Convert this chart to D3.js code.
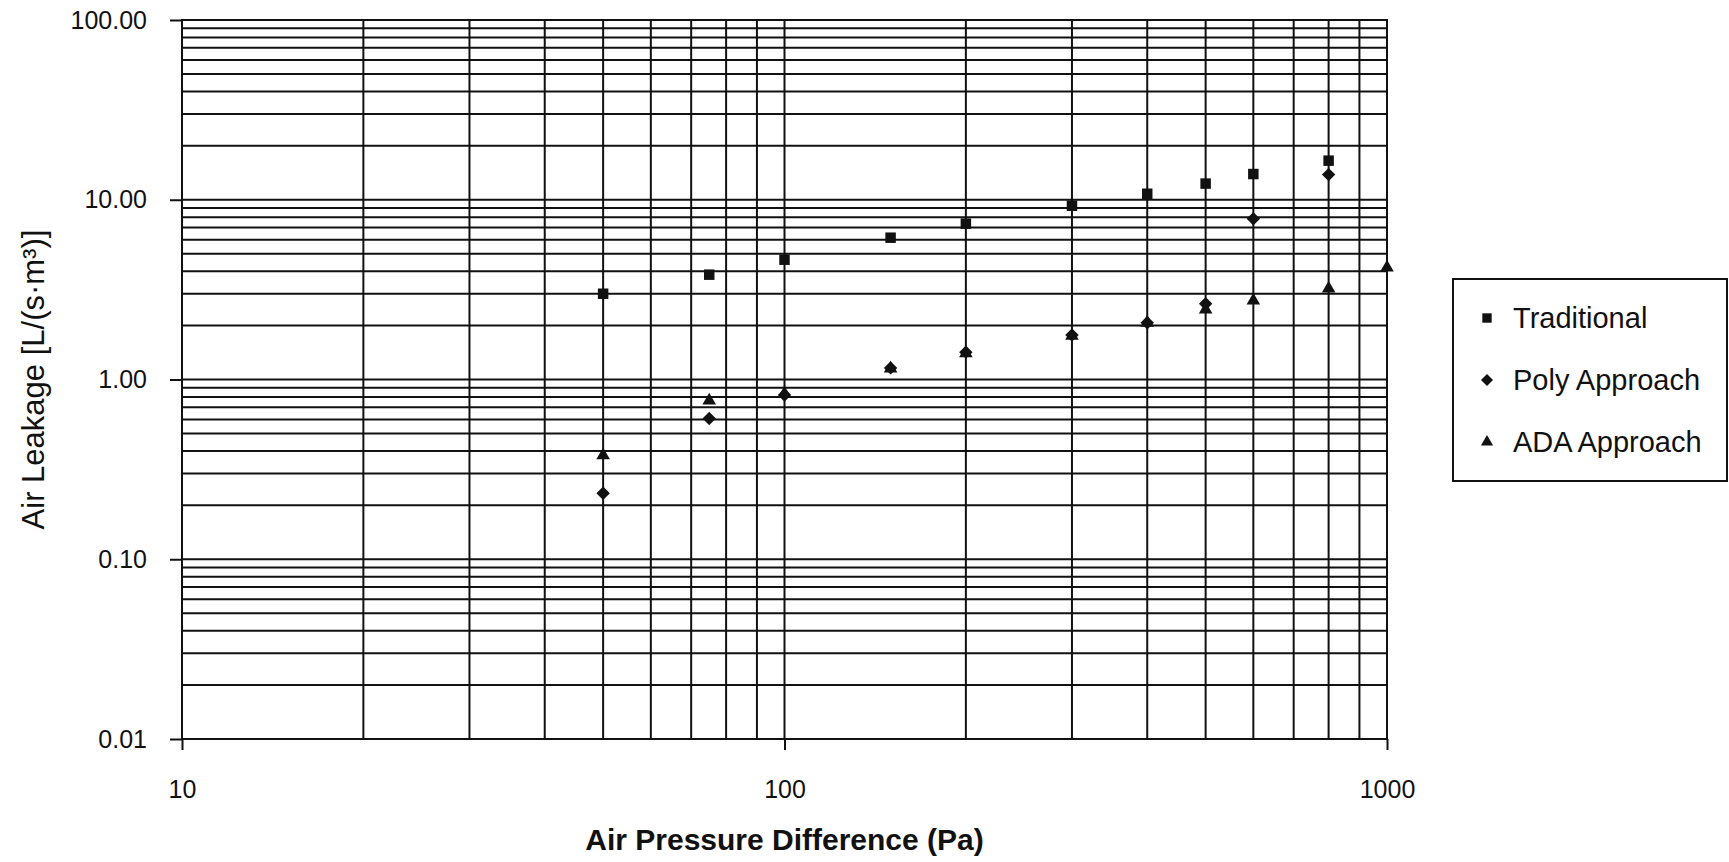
<!DOCTYPE html>
<html>
<head>
<meta charset="utf-8">
<script src="https://cdn.jsdelivr.net/npm/d3@7"></script>
<style>
    body { margin: 0; background: #fff; }
    text { font-family: "Liberation Sans", Arial, sans-serif; fill: #111; }
</style>
</head>
<body>
<script>
// values
const pressure = [50, 75, 100, 150, 200, 300, 400, 500, 600, 800, 1000];
const traditional = [3.0, 3.83, 4.64, 6.15, 7.36, 9.26, 10.8, 12.3, 13.9, 16.5, null];
const polyApproach = [0.233, 0.607, 0.82, 1.16, 1.42, 1.77, 2.07, 2.64, 7.84, 13.8, null];
const adaApproach = [0.378, 0.764, 0.836, 1.15, 1.40, 1.75, 2.07, 2.45, 2.75, 3.2, 4.19];

const seriesNames = ["Traditional", "Poly Approach", "ADA Approach"];
const yMajor = [0.01, 0.1, 1, 10, 100];
const xMajor = [10, 100, 1000];

const width = 1729;
const height = 862;
const plot = {left: 182, right: 1387, top: 20, bottom: 739};

const svg = d3.select("body")
    .append("svg")
    .attr("width", width)
    .attr("height", height);

svg.append("rect")
    .attr("width", width)
    .attr("height", height)
    .attr("fill", "#fff");

const xScale = d3.scaleLog()
    .domain([10, 1000])
    .range([plot.left, plot.right]);

const yScale = d3.scaleLog()
    .domain([0.01, 100])
    .range([plot.bottom, plot.top]);

// grid, every 1..9 step of each decade
const grid = svg.append("g")
    .attr("stroke", "#111")
    .attr("stroke-width", 2);

grid.selectAll(".hline")
    .data(yScale.ticks())
    .enter().append("line")
    .attr("x1", plot.left)
    .attr("x2", plot.right)
    .attr("y1", function (d) { return yScale(d); })
    .attr("y2", function (d) { return yScale(d); });

grid.selectAll(".vline")
    .data(xScale.ticks())
    .enter().append("line")
    .attr("y1", plot.top)
    .attr("y2", plot.bottom)
    .attr("x1", function (d) { return xScale(d); })
    .attr("x2", function (d) { return xScale(d); });

// axes with tick marks on the decades only
const yAxis = svg.append("g")
    .attr("transform", "translate(" + plot.left + ",0)")
    .call(d3.axisLeft(yScale)
        .tickValues(yMajor)
        .tickSize(12)
        .tickPadding(23)
        .tickFormat(d3.format(".2f")));

const xAxis = svg.append("g")
    .attr("transform", "translate(0," + plot.bottom + ")")
    .call(d3.axisBottom(xScale)
        .tickValues(xMajor)
        .tickSize(11)
        .tickPadding(30)
        .tickFormat(d3.format("d")));

[yAxis, xAxis].forEach(function (ax) {
    ax.select(".domain").remove();
    ax.selectAll(".tick line").attr("stroke", "#111").attr("stroke-width", 2);
    ax.selectAll(".tick text")
        .attr("font-size", 25)
        .attr("font-family", "Liberation Sans, Arial, sans-serif")
        .attr("fill", "#111");
});

svg.append("rect")
    .attr("x", plot.left)
    .attr("y", plot.top)
    .attr("width", plot.right - plot.left)
    .attr("height", plot.bottom - plot.top)
    .attr("fill", "none")
    .attr("stroke", "#111")
    .attr("stroke-width", 2);

// markers
const shapes = [
    {sym: d3.symbolSquare, size: 110, rot: 0},
    {sym: d3.symbolSquare, size: 90, rot: 45},
    {sym: d3.symbolTriangle, size: 80, rot: 0}
];
const seriesData = [traditional, polyApproach, adaApproach];

seriesData.forEach(function (values, i) {
    const pts = pressure.map(function (p, j) {
        return {x: p, y: values[j]};
    }).filter(function (d) { return d.y !== null; });

    svg.append("g").selectAll("path")
        .data(pts)
        .enter().append("path")
        .attr("d", d3.symbol().type(shapes[i].sym).size(shapes[i].size))
        .attr("transform", function (d) {
            return "translate(" + xScale(d.x) + "," + yScale(d.y) + ") rotate(" + shapes[i].rot + ")";
        })
        .attr("fill", "#111");
});

// axis titles
svg.append("text")
    .attr("x", (plot.left + plot.right) / 2)
    .attr("y", 850)
    .attr("text-anchor", "middle")
    .attr("font-size", 30)
    .attr("font-weight", "bold")
    .text("Air Pressure Difference (Pa)");

svg.append("text")
    .attr("transform", "translate(44," + (plot.top + plot.bottom) / 2 + ") rotate(-90)")
    .attr("text-anchor", "middle")
    .attr("font-size", 31)
    .text("Air Leakage [L/(s\u00b7m\u00b3)]");

// legend
const legend = svg.append("g");
legend.append("rect")
    .attr("x", 1453)
    .attr("y", 279)
    .attr("width", 274)
    .attr("height", 202)
    .attr("fill", "#fff")
    .attr("stroke", "#111")
    .attr("stroke-width", 2);

const legendItems = legend.selectAll(".item")
    .data(seriesNames)
    .enter().append("g")
    .attr("transform", function (d, i) {
        return "translate(1487," + (318 + i * 62) + ")";
    });

legendItems.append("path")
    .attr("d", function (d, i) {
        return d3.symbol().type(shapes[i].sym).size(shapes[i].size * 0.8)();
    })
    .attr("transform", function (d, i) { return "rotate(" + shapes[i].rot + ")"; })
    .attr("fill", "#111");

legendItems.append("text")
    .attr("x", 26)
    .attr("dy", "0.36em")
    .attr("font-size", 29)
    .text(function (d) { return d; });
</script>
</body>
</html>
